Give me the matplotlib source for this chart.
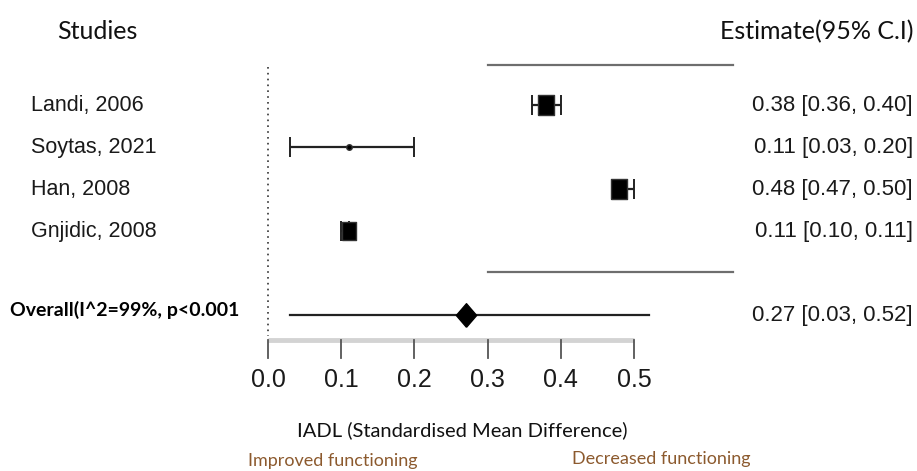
import numpy as np
import matplotlib.pyplot as plt

# forest plot data
studies = ['Landi, 2006', 'Soytas, 2021', 'Han, 2008', 'Gnjidic, 2008']
est = [0.38, 0.11, 0.48, 0.11]
lo = [0.36, 0.03, 0.47, 0.10]
hi = [0.40, 0.20, 0.50, 0.11]
box_ms = [14.4, 4.0, 14.4, 12.5]   # marker size ~ study weight
rows = [0, 1, 2, 3]

overall_est = 0.27
overall_lo = 0.03
overall_hi = 0.52
overall_row = 5
overall_label = 'Overall(I^2=99%, p<0.001'

ticks = [0.0, 0.1, 0.2, 0.3, 0.4, 0.5]
xlabel = 'IADL (Standardised Mean Difference)'

W, H = 917, 471
fig = plt.figure(figsize=(W / 100, H / 100), dpi=100)
ax = fig.add_axes([0, 0, 1, 1])
ax.set_xlim(-268 / 732, (W - 268) / 732)
ax.set_ylim((H - 105) / 42, -105 / 42)
ax.axis('off')

tx = ax.get_yaxis_transform()  # x in axes fraction, y in rows
sans = ['Liberation Sans', 'DejaVu Sans']
myriad = ['Lato', 'DejaVu Sans']

rect = [(-0.4, -0.5), (0.4, -0.5), (0.4, 0.5), (-0.4, 0.5), (-0.4, -0.5)]
diamond = [(0, -0.5), (0.43, 0), (0, 0.5), (-0.43, 0), (0, -0.5)]

# study rows
for r, name, e, l, h, ms in zip(rows, studies, est, lo, hi, box_ms):
    ax.errorbar(e, r, xerr=[[e - l], [h - e]], fmt='none', ecolor='#222222',
                elinewidth=1.6, capsize=7, capthick=1.4, zorder=2)
    ax.plot(e, r, marker=rect if ms > 6 else 'o', ms=ms, color='black',
            mec='#333333', zorder=3)
    ax.text(31 / W, r, name, transform=tx, family=sans, fontsize=15.5,
            va='center', ha='left', color='#1a1a1a')
    ax.text(913 / W, r, f'{e:.2f} [{l:.2f}, {h:.2f}]', transform=tx,
            family=sans, fontsize=16, va='center', ha='right', color='#1a1a1a')

# overall
ax.plot([overall_lo, overall_hi], [overall_row, overall_row], color='#222222',
        lw=1.6, zorder=2)
ax.plot(overall_est, overall_row, marker=diamond, ms=17, color='black', zorder=3)
ax.text(10 / W, overall_row - 0.12, overall_label, transform=tx, family=myriad,
        fontsize=14, fontweight='bold', va='center', ha='left', color='black')
ax.text(913 / W, overall_row, f'{overall_est:.2f} [{overall_lo:.2f}, {overall_hi:.2f}]',
        transform=tx, family=sans, fontsize=16, va='center', ha='right',
        color='#1a1a1a')

# separators and null line
ax.plot([0.3, 0.635], [-0.95, -0.95], color='#6e6e6e', lw=1.6)
ax.plot([0.3, 0.635], [3.98, 3.98], color='#6e6e6e', lw=1.6)
ax.plot([0, 0], [-0.9, 5.5], color='#333333', lw=1.2, ls=(0, (1, 2.5)))

# x axis
ax_y = 5.6
ax.plot([ticks[0], ticks[-1]], [ax_y, ax_y], color='#d3d3d3', lw=3.5,
        solid_capstyle='butt', zorder=1)
for t in ticks:
    ax.plot([t, t], [ax_y, ax_y + 0.42], color='#555555', lw=1.3)
    ax.text(t, 6.55, f'{t:.1f}', family=sans, fontsize=18, ha='center',
            va='center', color='#1a1a1a')

# headers and labels
ax.text(97 / W, -1.74, 'Studies', transform=tx, family=myriad, fontsize=18,
        ha='center', va='center', color='#111111')
ax.text(913 / W, -1.74, 'Estimate(95% C.I)', transform=tx, family=myriad,
        fontsize=18, ha='right', va='center', color='#111111')
ax.text(462 / W, (430 - 105) / 42, xlabel, transform=tx, family=myriad,
        fontsize=14.5, ha='center', va='center', color='#111111')
ax.text(333 / W, (461 - 105) / 42, 'Improved functioning', transform=tx,
        family=myriad, fontsize=13, ha='center', va='center', color='#8c5a2e')
ax.text(661 / W, (459 - 105) / 42, 'Decreased functioning', transform=tx,
        family=myriad, fontsize=13, ha='center', va='center', color='#8c5a2e')

fig.savefig('out.png', dpi=100)
